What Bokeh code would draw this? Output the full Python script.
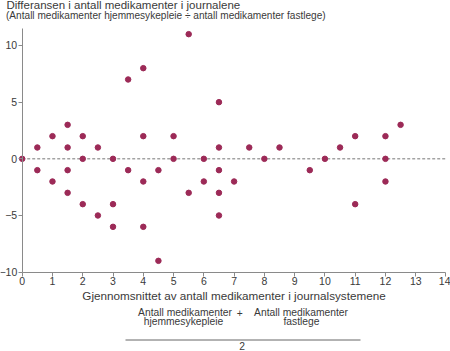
from bokeh.plotting import figure
from bokeh.models import ColumnDataSource, FixedTicker, Range1d, Label, Arrow
from bokeh.embed import file_html
from bokeh.resources import INLINE

# Data
mean_count = [0, 0.5, 0.5, 1, 1, 1.5, 1.5, 1.5, 1.5, 2, 2, 2, 2.5, 2.5,
              3, 3, 3, 3.5, 3.5, 4, 4, 4, 4, 4.5, 4.5, 5, 5, 5.5, 5.5,
              6, 6, 6.5, 6.5, 6.5, 6.5, 6.5, 7, 7.5, 8, 8.5, 9.5, 10, 10.5,
              11, 11, 12, 12, 12, 12.5]
difference = [0, 1, -1, 2, -2, 3, 1, -1, -3, 2, 0, -4, 1, -5,
              0, -4, -6, 7, -1, 8, 2, -2, -6, -1, -9, 2, 0, 11, -3,
              0, -2, 5, 1, -1, -3, -5, -2, 1, 0, 1, -1, 0, 1,
              2, -4, 2, 0, -2, 3]
x_ticks = list(range(0, 15))
y_ticks = [-10, -5, 0, 5, 10]
x_bounds = (0, 14)
y_bounds = (-10, 11.5)

title_text = "Differansen i antall medikamenter i journalene"
subtitle_text = "(Antall medikamenter hjemmesykepleie  \u00f7  antall medikamenter fastlege)"
x_label = "Gjennomsnittet av antall medikamenter i journalsystemene"
formula_num_left = ["Antall medikamenter", "hjemmesykepleie"]
formula_num_right = ["Antall medikamenter", "fastlege"]
formula_op = "+"
formula_den = "2"

FONT = "Liberation Sans"
TXT = "#3a3a3a"
AX = "#8a8a8a"
DOT = "#9c2a57"
W, H = 450, 351

# The frame covers the whole canvas; axes are pinned at x=0 / y=-10.
p = figure(width=W, height=H, output_backend="svg", toolbar_location=None,
           x_range=Range1d(-0.717, 14.149), y_range=Range1d(-17.0, 13.97),
           min_border=0, min_border_left=0, min_border_right=0,
           min_border_top=0, min_border_bottom=0)
p.outline_line_color = None
p.grid.visible = False

src = ColumnDataSource(dict(x=mean_count, y=difference))
p.line(x=list(x_bounds), y=[0, 0], line_color="#777777", line_dash="3 2", line_width=1)
p.scatter("x", "y", source=src, size=5.5, fill_color=DOT, line_color=DOT)

for ax in (p.xaxis[0], p.yaxis[0]):
    ax.axis_line_color = AX
    ax.major_tick_line_color = AX
    ax.minor_tick_line_color = None
    ax.major_tick_out = 4
    ax.major_tick_in = 0
    ax.major_label_text_font = FONT
    ax.major_label_text_font_size = "10.5px"
    ax.major_label_text_color = TXT
    ax.major_label_standoff = 1

p.xaxis[0].fixed_location = y_bounds[0]
p.yaxis[0].fixed_location = x_bounds[0]
p.xaxis[0].bounds = x_bounds
p.yaxis[0].bounds = y_bounds
p.xaxis[0].ticker = FixedTicker(ticks=x_ticks)
p.yaxis[0].ticker = FixedTicker(ticks=y_ticks)
p.xaxis[0].axis_label = x_label
p.xaxis[0].axis_label_text_font = FONT
p.xaxis[0].axis_label_text_font_size = "11.7px"
p.xaxis[0].axis_label_text_font_style = "normal"
p.xaxis[0].axis_label_text_color = TXT
p.xaxis[0].axis_label_standoff = 0


def lab(text, cx, cy, size, align="left", baseline="alphabetic"):
    # cx, cy: canvas pixels from the top-left corner (cy = wanted baseline)
    shift = 0.4 * size if baseline == "alphabetic" else 0.0
    p.add_layout(Label(x=cx, y=H - (cy - shift), x_units="screen", y_units="screen", text=text,
                       text_font=FONT, text_font_size=f"{size}px", text_color=TXT,
                       text_align=align, text_baseline=baseline))


lab(title_text, 6, 9, 11.5)
lab(subtitle_text, 5.5, 19.5, 10.1)
lab(formula_num_left[0], 184.5, 316.5, 10.3, "center")
lab(formula_num_left[1], 183, 325.3, 10.3, "center")
lab(formula_op, 239.3, 312.7, 10.3, "center", "middle")
lab(formula_num_right[0], 300.5, 316.5, 10.3, "center")
lab(formula_num_right[1], 301, 325.3, 10.3, "center")
lab(formula_den, 241.7, 349.5, 10.3, "center")
p.add_layout(Arrow(start=None, end=None, x_start=125, y_start=H - 339.5, x_end=360, y_end=H - 339.5,
                   start_units="screen", end_units="screen", line_color="#666666", line_width=1))

open("out.html", "w").write(file_html(p, INLINE))
